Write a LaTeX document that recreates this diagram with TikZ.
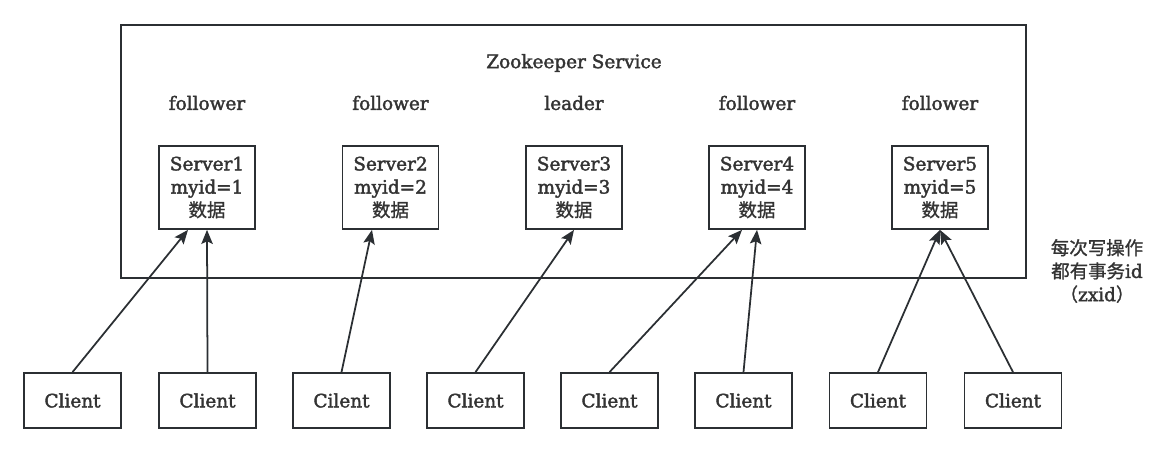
\documentclass[tikz,border=0pt]{standalone}
\usepackage{fontspec}
\setmainfont{DejaVu Serif}[FakeBold=2]
\newfontfamily\cjk{Noto Sans CJK SC}[FakeBold=1.2]
\usepackage{xcolor}
\usepackage{tikz}
\usetikzlibrary{arrows.meta}

\definecolor{inkline}{HTML}{2B2F33}
\definecolor{inktext}{HTML}{333333}

\begin{document}
\begin{tikzpicture}[
                x=0.02cm, y=-0.02cm,
                every node/.style={text=inktext, font=\fontsize{10.5}{13.2}\selectfont},
                frame/.style={draw=inkline, line width=1pt},
                server/.style={rectangle, draw=inkline, line width=1pt, align=center, minimum width=1.92cm, minimum height=1.66cm, inner sep=0pt},
                client/.style={rectangle, draw=inkline, line width=1pt, minimum width=1.94cm, minimum height=1.1cm, inner sep=0pt},
                role/.style={rectangle},
                request/.style={-{Stealth[length=8pt, width=6.5pt, inset=1.5pt]}, draw=inkline, line width=1pt}
                ]
                \useasboundingbox (0,0) rectangle (1171,453);

                % Service frame
                \draw[frame] (121,25) rectangle (1026,278);
                \node (title) at (574,63) {Zookeeper Service};

                % Roles
                \node[role] (role1) at (207,103) {follower};
                \node[role] (role2) at (390.5,103) {follower};
                \node[role] (role3) at (574,103) {leader};
                \node[role] (role4) at (757,103) {follower};
                \node[role] (role5) at (940,103) {follower};

                % Servers
                \node[server] (srv1) at (207,187.5) {Server1\\myid=1\\{\cjk 数据}};
                \node[server] (srv2) at (390.5,187.5) {Server2\\myid=2\\{\cjk 数据}};
                \node[server] (srv3) at (574,187.5) {Server3\\myid=3\\{\cjk 数据}};
                \node[server] (srv4) at (757,187.5) {Server4\\myid=4\\{\cjk 数据}};
                \node[server] (srv5) at (940,187.5) {Server5\\myid=5\\{\cjk 数据}};

                % Clients
                \node[client] (cl1) at (72.5,400.5) {Client};
                \node[client] (cl2) at (207.5,400.5) {Client};
                \node[client] (cl3) at (341.5,400.5) {Cilent};
                \node[client] (cl4) at (475.5,400.5) {Client};
                \node[client] (cl5) at (609.5,400.5) {Client};
                \node[client] (cl6) at (743.5,400.5) {Client};
                \node[client] (cl7) at (878,400.5) {Client};
                \node[client] (cl8) at (1013,400.5) {Client};

                % Requests
                \draw[request] (cl1.north) -- ([xshift=-0.38cm]srv1.south);
                \draw[request] (cl2.north) -- (srv1.south);
                \draw[request] (cl3.north) -- ([xshift=-0.37cm]srv2.south);
                \draw[request] (cl4.north) -- (srv3.south);
                \draw[request] (cl5.north) -- ([xshift=-0.3cm]srv4.south);
                \draw[request] (cl6.north) -- (srv4.south);
                \draw[request] (cl7.north) -- (srv5.south);
                \draw[request] (cl8.north) -- (srv5.south);

                % Note
                \node[align=center] (note) at (1097,271) {{\cjk 每次写操作}\\{\cjk 都有事务}id\\{\cjk （}zxid{\cjk ）}};

                \end{tikzpicture}
\end{document}
